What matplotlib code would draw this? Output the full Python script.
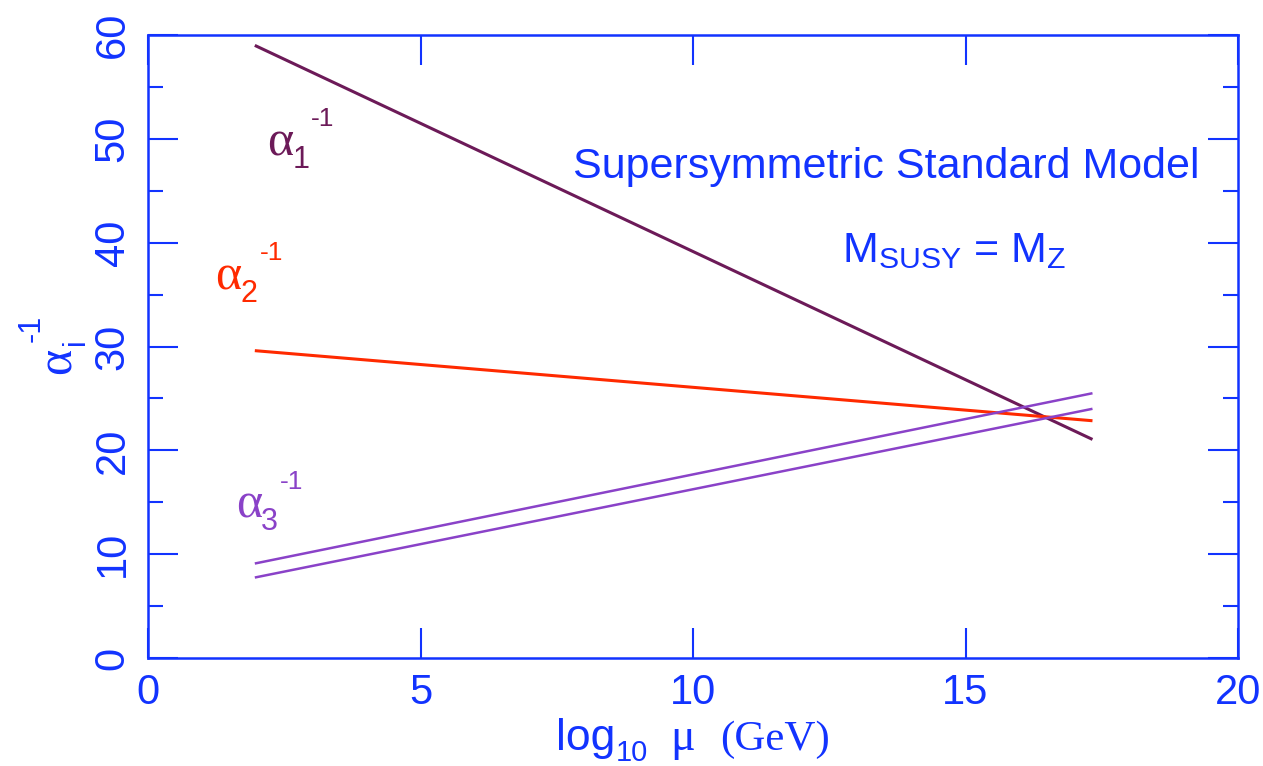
import numpy as np
import matplotlib
matplotlib.use("Agg")
import matplotlib.pyplot as plt
from matplotlib.ticker import MultipleLocator

# running couplings, straight lines in log10(mu)
log_mu = [1.96, 17.33]
inv_alpha1 = [59.0, 21.05]
inv_alpha2 = [29.6, 22.85]
inv_alpha3_hi = [9.1, 25.5]
inv_alpha3_lo = [7.75, 24.0]

x_ticks = [0, 5, 10, 15, 20]
y_ticks = [0, 10, 20, 30, 40, 50, 60]

BLUE = "#1233ff"
C1 = "#6c1a58"
C2 = "#ff2a00"
C3 = "#8a42c8"

SANS = "Liberation Sans"
SERIF = "Liberation Serif"

plt.rcParams["font.family"] = SANS
plt.rcParams["mathtext.fontset"] = "custom"
plt.rcParams["mathtext.rm"] = SANS
plt.rcParams["mathtext.it"] = SANS
plt.rcParams["mathtext.default"] = "regular"

W, H = 1263, 766
fig = plt.figure(figsize=(W / 100, H / 100), dpi=100)
ax = fig.add_axes([148 / W, 1 - 658 / H, (1238 - 148) / W, (658 - 35) / H])


def px(x, y):
    # pixel position (from top-left) -> figure fraction
    return x / W, 1 - y / H


ax.plot(log_mu, inv_alpha1, color=C1, lw=2.2, solid_capstyle="butt")
ax.plot(log_mu, inv_alpha2, color=C2, lw=2.2, solid_capstyle="butt")
ax.plot(log_mu, inv_alpha3_hi, color=C3, lw=1.8, solid_capstyle="butt")
ax.plot(log_mu, inv_alpha3_lo, color=C3, lw=1.8, solid_capstyle="butt")

ax.set_xlim(0, 20)
ax.set_ylim(0, 60)
ax.set_xticks(x_ticks)
ax.set_yticks(y_ticks)
ax.yaxis.set_minor_locator(MultipleLocator(5))

for sp in ax.spines.values():
    sp.set_color(BLUE)
    sp.set_linewidth(1.8)

ax.tick_params(which="both", direction="in", top=True, right=True,
               color=BLUE, labelcolor=BLUE, width=1.5)
ax.tick_params(which="major", length=21.6, labelsize=30)
ax.tick_params(which="minor", length=10.8)
ax.tick_params(axis="x", pad=11)
ax.tick_params(axis="y", pad=11, labelrotation=90)
for lab in ax.get_yticklabels():
    lab.set_va("center")


def coupling_label(x, y, sub, color):
    ax.text(x, y, "\u03b1", family=SERIF, fontsize=36, color=color,
            ha="center", va="center")
    ax.annotate(sub, (x, y), xytext=(15, -12), textcoords="offset points",
                fontsize=22, color=color, ha="center", va="center")
    ax.annotate("-1", (x, y), xytext=(31, 17), textcoords="offset points",
                fontsize=19, color=color, ha="center", va="center")


coupling_label(2.42, 49.6, "1", C1)
coupling_label(1.47, 36.7, "2", C2)
coupling_label(1.85, 14.7, "3", C3)

# annotations
fig.text(*px(886, 178), "Supersymmetric Standard Model", fontsize=31,
         color=BLUE, ha="center", va="baseline")
fig.text(*px(954, 262), r"$M_{SUSY}$ = $M_Z$", fontsize=31,
         color=BLUE, ha="center", va="baseline")

# y label: alpha_i^-1, rotated
fig.text(*px(58, 361), "\u03b1", family=SERIF, fontsize=36, color=BLUE,
         rotation=90, ha="center", va="center")
fig.text(*px(76, 342), "i", fontsize=22, color=BLUE,
         rotation=90, ha="center", va="center")
fig.text(*px(32, 328), "-1", fontsize=22, color=BLUE,
         rotation=90, ha="center", va="center")

# x label: log10 mu (GeV)
fig.text(*px(556, 750), "log", fontsize=32, color=BLUE, va="baseline")
fig.text(*px(616, 761), "10", fontsize=21, color=BLUE, va="baseline")
fig.text(*px(670, 750), "\u03bc", family=SERIF, fontsize=33, color=BLUE,
         va="baseline")
fig.text(*px(720, 750), "(GeV)", family=SERIF, fontsize=31, color=BLUE,
         va="baseline")

fig.savefig("out.png", dpi=100)
